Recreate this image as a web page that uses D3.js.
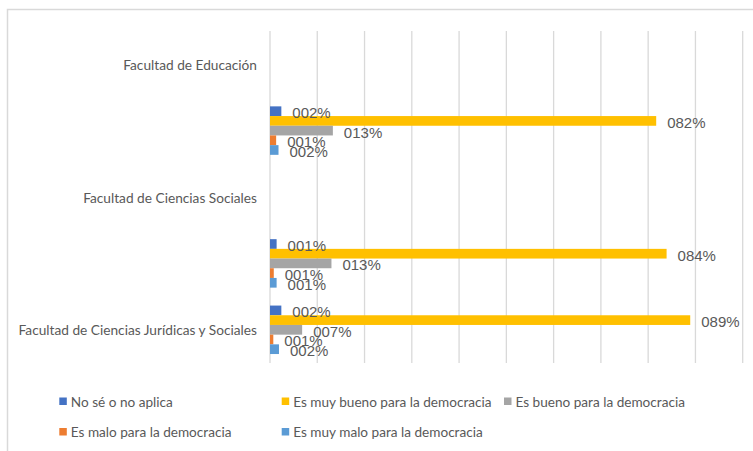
<!DOCTYPE html>
<html>
<head>
<meta charset="utf-8">
<script src="https://cdn.jsdelivr.net/npm/d3@7"></script>
<style>
  html, body { margin: 0; padding: 0; background: #fff; }
  svg { display: block; }
</style>
</head>
<body>
<svg id="chart" width="753" height="451"></svg>
<script>
// Category slots, top to bottom (unlabeled slots are the ones Excel skipped)
const categories = ["Facultad de Educación", "", "Facultad de Ciencias Sociales", "", "Facultad de Ciencias Jurídicas y Sociales"];
const seriesNames = ["No sé o no aplica", "Es muy bueno para la democracia", "Es bueno para la democracia", "Es malo para la democracia", "Es muy malo para la democracia"];
const seriesColors = ["#4472C4", "#FFC000", "#A5A5A5", "#ED7D31", "#5B9BD5"];
// values per series, one per category slot (null = no bar)
const noSe      = [null, 0.024, null, 0.014, 0.024];
const muyBueno  = [null, 0.817, null, 0.839, 0.889];
const bueno     = [null, 0.133, null, 0.130, 0.068];
const malo      = [null, 0.013, null, 0.008, 0.007];
const muyMalo   = [null, 0.018, null, 0.014, 0.019];
const xTicks = [0, 0.1, 0.2, 0.3, 0.4, 0.5, 0.6, 0.7, 0.8, 0.9, 1.0];

const seriesValues = [noSe, muyBueno, bueno, malo, muyMalo];

const svg = d3.select("#chart");
const plot = { left: 270, right: 742.7, top: 31, bottom: 363 };

// chart border (top and left visible)
svg.append("path")
  .attr("d", `M7.5,460 V9.5 H760`)
  .attr("fill", "none")
  .attr("stroke", "#d9d9d9")
  .attr("stroke-width", 1.5);

const x = d3.scaleLinear().domain([0, 1]).range([plot.left, plot.right]);
const y0 = d3.scaleBand().domain(d3.range(categories.length))
  .range([plot.top, plot.bottom]).paddingInner(0.27).paddingOuter(0.135);
const y1 = d3.scaleBand().domain(d3.range(seriesNames.length))
  .range([0, y0.bandwidth()]);

// gridlines
svg.append("g").selectAll("line").data(xTicks).join("line")
  .attr("x1", d => x(d)).attr("x2", d => x(d))
  .attr("y1", plot.top).attr("y2", plot.bottom)
  .attr("stroke", "#d9d9d9").attr("stroke-width", 1.3);

// category labels
svg.append("g").selectAll("text").data(categories).join("text")
  .attr("x", 257)
  .attr("y", (d, i) => y0(i) + y0.bandwidth() / 2)
  .attr("text-anchor", "end")
  .attr("dominant-baseline", "central")
  .attr("font-family", "Lato, 'Open Sans', sans-serif")
  .attr("font-size", 13.7)
  .attr("fill", "#595959")
  .text(d => d);

// bars
const fmt = v => String(Math.round(v * 100)).padStart(3, "0") + "%";
const barData = [];
seriesValues.forEach((vals, s) => {
  vals.forEach((v, c) => { if (v != null) barData.push({ s, c, v }); });
});

svg.append("g").selectAll("rect").data(barData).join("rect")
  .attr("x", x(0))
  .attr("y", d => y0(d.c) + y1(d.s))
  .attr("width", d => x(d.v) - x(0))
  .attr("height", y1.bandwidth())
  .attr("fill", d => seriesColors[d.s]);

svg.append("g").selectAll("text").data(barData).join("text")
  .attr("x", d => x(d.v) + 11)
  .attr("y", d => y0(d.c) + y1(d.s) + y1.bandwidth() / 2 + 1.5)
  .attr("dominant-baseline", "central")
  .attr("font-family", "'Liberation Sans', Arial, sans-serif")
  .attr("font-size", 15)
  .attr("fill", "#595959")
  .text(d => fmt(d.v));

// legend
const legendPos = [
  { x: 59.3, y: 401.5 }, { x: 281.7, y: 401.5 }, { x: 504, y: 401.5 },
  { x: 59.3, y: 432 }, { x: 281.7, y: 432 }
];
const lg = svg.append("g").selectAll("g").data(seriesNames).join("g")
  .attr("transform", (d, i) => `translate(${legendPos[i].x},${legendPos[i].y})`);
lg.append("rect").attr("x", 0).attr("y", -4).attr("width", 7.5).attr("height", 7.5)
  .attr("fill", (d, i) => seriesColors[i]);
lg.append("text").attr("x", 11.5).attr("y", 0)
  .attr("dominant-baseline", "central")
  .attr("font-family", "Lato, 'Open Sans', sans-serif")
  .attr("font-size", 13.6)
  .attr("fill", "#595959")
  .text(d => d);
</script>
</body>
</html>
